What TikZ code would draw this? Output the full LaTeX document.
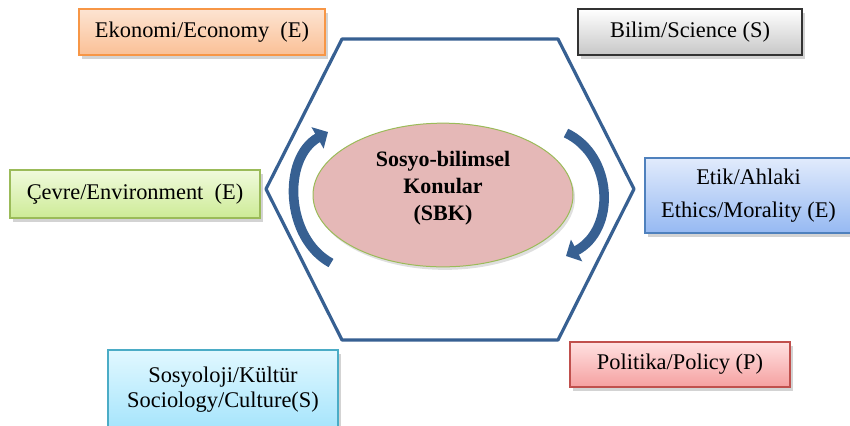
\documentclass[tikz,border=0pt]{standalone}
\usepackage{fontspec}
\setmainfont{Liberation Serif}
\usetikzlibrary{shapes.geometric,shadows,arrows.meta}

\definecolor{hexblue}{RGB}{55,96,146}
\definecolor{ekoline}{RGB}{247,150,70}
\definecolor{cevline}{RGB}{155,187,89}
\definecolor{etikline}{RGB}{79,129,189}
\definecolor{sosline}{RGB}{75,172,198}
\definecolor{polline}{RGB}{192,80,77}
\definecolor{sbkfill}{RGB}{229,184,183}

\tikzset{
  topic/.style={draw, line width=0.6pt, inner sep=2pt, align=center,
    font=\fontsize{11.2}{13}\selectfont,
    drop shadow={shadow xshift=1.5pt, shadow yshift=-1.8pt, opacity=0.35}},
  hexline/.style={draw=hexblue, line width=1.6pt, line join=round},
  turn/.style={draw=hexblue, line width=4.8pt, -{Triangle[length=6pt,width=12pt]}}
}

\begin{document}
\begin{tikzpicture}[x=0.5pt,y=-0.5pt]
\clip (0,0) rectangle (850,425);
\useasboundingbox (0,0) rectangle (850,425);

% hexagon
\draw[hexline] (342,39) -- (558,39) -- (634,189) -- (558,340) -- (342,340) -- (266,189) -- cycle;

% centre
\node[ellipse, draw=cevline, line width=0.5pt, fill=sbkfill,
  minimum width=130pt, minimum height=67.5pt, align=center,
  font=\fontsize{11}{13.5}\selectfont\bfseries,
  drop shadow={shadow xshift=1pt, shadow yshift=-1.5pt, opacity=0.25}]
  (sbk) at (443,195) {Sosyo-bilimsel\\Konular\\(SBK)\\[-4pt]};

% circular arrows
\draw[turn] (331,263) .. controls (285,238) and (282,158) .. (328,132);
\draw[turn] (566,133) .. controls (614,156) and (616,230) .. (566,256);

% topics
\node[topic, draw=ekoline, top color={rgb,255:red,253;green,228;blue,210},
  bottom color={rgb,255:red,250;green,192;blue,150},
  minimum width=123pt, minimum height=23pt] (eko) at (202,32) {Ekonomi/Economy\ \ (E)};
\node[topic, draw=black!80, top color=white, bottom color=black!22,
  minimum width=112pt, minimum height=23pt] (bil) at (690,32) {Bilim/Science (S)};
\node[topic, draw=cevline, top color={rgb,255:red,240;green,250;blue,220},
  bottom color={rgb,255:red,205;green,235;blue,150},
  minimum width=125pt, minimum height=24pt] (cev) at (135,194) {Çevre/Environment\ \ (E)};
\node[topic, draw=etikline, top color={rgb,255:red,225;green,235;blue,252},
  bottom color={rgb,255:red,150;green,185;blue,242},
  minimum width=103.5pt, minimum height=37.5pt,
  font=\fontsize{11.2}{16.5}\selectfont] (etik) at (748.5,195.5) {Etik/Ahlaki\\Ethics/Morality (E)};
\node[topic, draw=sosline, top color={rgb,255:red,225;green,248;blue,255},
  bottom color={rgb,255:red,165;green,228;blue,252},
  minimum width=115pt, minimum height=40pt,
  font=\fontsize{11.2}{12.5}\selectfont] (sos) at (223,390) {Sosyoloji/Kültür\\Sociology/Culture(S)};
\node[topic, draw=polline, top color={rgb,255:red,255;green,225;blue,225},
  bottom color={rgb,255:red,245;green,160;blue,160},
  minimum width=110pt, minimum height=22.5pt] (pol) at (680,364.5) {Politika/Policy (P)};
\end{tikzpicture}
\end{document}
